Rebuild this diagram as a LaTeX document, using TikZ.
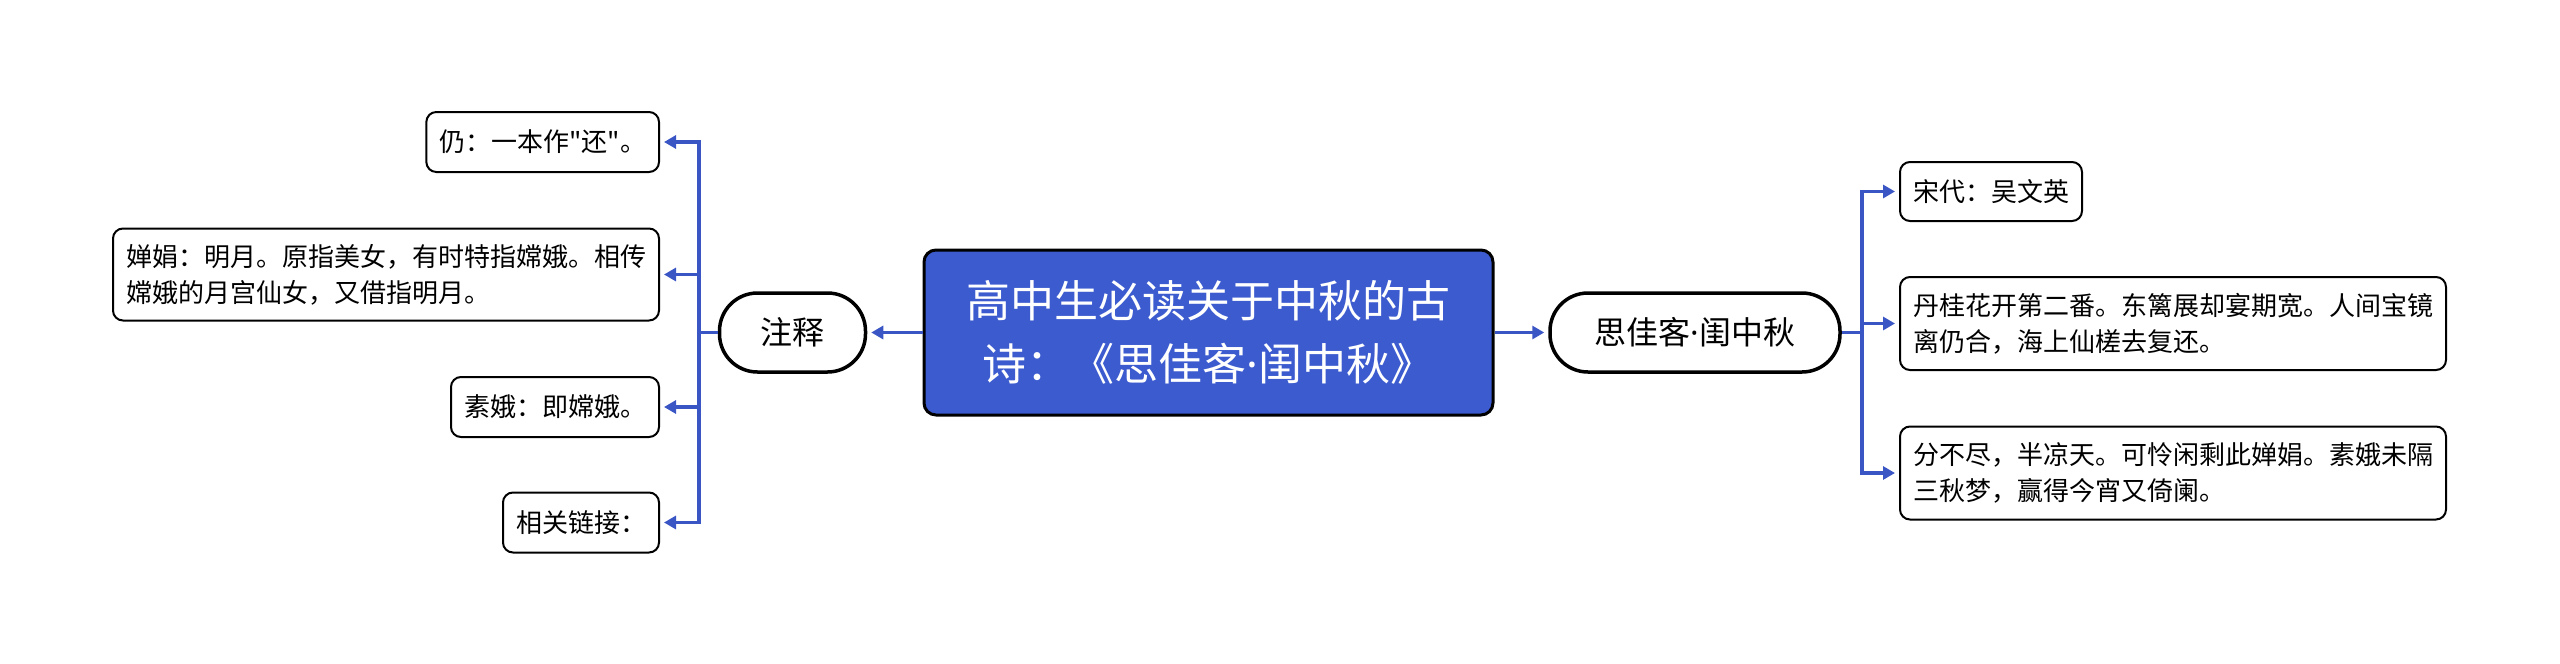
\documentclass[tikz,border=0pt]{standalone}
\usepackage{fontspec}
\newfontfamily\cjk{Noto Sans CJK SC}
\newfontfamily\latinsans{Noto Sans}
\newcommand{\middot}{{\latinsans ·}}
\usetikzlibrary{arrows.meta}
\definecolor{mainblue}{HTML}{3B5BCF}
\definecolor{lineblue}{HTML}{3A55C4}
\begin{document}
\begin{tikzpicture}[x=1pt,y=-1pt,
  conn/.style={draw=lineblue,line width=3.5pt,-{Triangle[length=12pt,width=13pt]},shorten >=4pt},
  bus/.style={draw=lineblue,line width=3.5pt},
  leaf/.style={draw=black,line width=2pt,rounded corners=10pt,fill=white,font=\cjk\fontsize{26}{36}\selectfont,align=left,inner xsep=13pt,inner ysep=0pt,text=black},
  mid/.style={draw=black,line width=3.5pt,rounded corners=38pt,minimum height=79pt,inner sep=0pt,fill=white,font=\cjk\fontsize{32}{38}\selectfont},
  root/.style={draw=black,line width=3pt,rounded corners=12pt,fill=mainblue,text=white,minimum width=569pt,minimum height=165pt,inner sep=0pt,align=center,font=\cjk\fontsize{44}{63}\selectfont}
]
\useasboundingbox (0,0) rectangle (2560,664);
% root
\node[root] (root) at (1208.5,332.5) {高中生必读关于中秋的古\\诗：《思佳客\middot 闺中秋》};
% mid nodes
\node[mid,minimum width=146pt] (zs) at (792.5,332.5) {注释};
\node[mid,minimum width=290pt] (sj) at (1695,332.5) {思佳客\middot 闺中秋};
% left leaves
\node[leaf,anchor=east,minimum height=60pt] (l1) at (660,142) {仍：一本作"还"。};
\node[leaf,anchor=east,minimum height=92pt] (l2) at (660,274.5) {婵娟：明月。原指美女，有时特指嫦娥。相传\\嫦娥的月宫仙女，又借指明月。};
\node[leaf,anchor=east,minimum height=60pt] (l3) at (660,407) {素娥：即嫦娥。};
\node[leaf,anchor=east,minimum height=60pt] (l4) at (660,522.5) {相关链接：};
% right leaves
\node[leaf,anchor=west,minimum height=59pt] (r1) at (1899,191.5) {宋代：吴文英};
\node[leaf,anchor=west,minimum height=93pt] (r2) at (1899,323.5) {丹桂花开第二番。东篱展却宴期宽。人间宝镜\\离仍合，海上仙槎去复还。};
\node[leaf,anchor=west,minimum height=93pt] (r3) at (1899,473) {分不尽，半凉天。可怜闲剩此婵娟。素娥未隔\\三秋梦，赢得今宵又倚阑。};
% bus coordinates
\coordinate (lbus) at (699,332.5);
\coordinate (rbus) at (1862,332.5);
% connectors
\draw[conn] (root.west) -- (zs.east);
\draw[conn] (root.east) -- (sj.west);
\draw[bus] (zs.west) -- (lbus);
\draw[conn] (lbus) |- (l1.east);
\draw[conn] (lbus) |- (l2.east);
\draw[conn] (lbus) |- (l3.east);
\draw[conn] (lbus) |- (l4.east);
\draw[bus] (sj.east) -- (rbus);
\draw[conn] (rbus) |- (r1.west);
\draw[conn] (rbus) |- (r2.west);
\draw[conn] (rbus) |- (r3.west);
\end{tikzpicture}
\end{document}
